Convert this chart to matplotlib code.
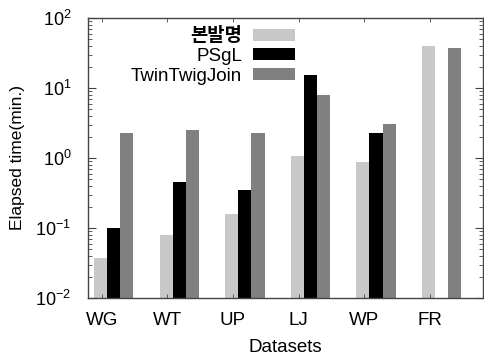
import matplotlib
matplotlib.use("Agg")
import matplotlib.pyplot as plt
import numpy as np
from matplotlib.ticker import LogLocator, NullFormatter

plt.rcParams['font.family'] = ['Liberation Sans', 'Noto Sans CJK KR', 'DejaVu Sans']
plt.rcParams['mathtext.default'] = 'regular'

datasets = ["WG", "WT", "UP", "LJ", "WP", "FR"]
series_names = ["본발명", "PSgL", "TwinTwigJoin"]
ours = [0.037, 0.079, 0.16, 1.07, 0.88, 39.8]
psgl = [0.10, 0.45, 0.35, 15.3, 2.3, np.nan]
twintwig = [2.3, 2.5, 2.3, 7.9, 3.05, 37.3]
colors = ["#c8c8c8", "#000000", "#808080"]

fig = plt.figure(figsize=(4.84, 3.6), dpi=100)
ax = fig.add_axes([88/484, 1-298/360, (483-88)/484, 280/360])

x = np.arange(len(datasets))
w = 0.2
for k, (vals, name, c) in enumerate(zip([ours, psgl, twintwig], series_names, colors)):
    ax.bar(x + (k-1)*w, vals, width=w, color=c, label=name, edgecolor='none')

ax.set_yscale('log')
ax.set_ylim(1e-2, 1e2)
ax.set_xlim(-0.39, 5.63)
ax.yaxis.set_minor_locator(LogLocator(base=10, subs=np.arange(2, 10), numticks=10))
ax.yaxis.set_minor_formatter(NullFormatter())
ax.set_yticks([1e-2, 1e-1, 1e0, 1e1, 1e2])
ax.set_yticklabels(["10$^{-2}$", "10$^{-1}$", "10$^{0}$", "10$^{1}$", "10$^{2}$"], fontsize=13)
ax.set_xticks(x - 0.18)
ax.set_xticklabels(datasets, fontsize=13.5)

ax.tick_params(axis='both', which='both', direction='in', top=True, right=True, color='#444444')
ax.tick_params(axis='y', which='major', length=6, width=0.8, pad=12)
ax.tick_params(axis='y', which='minor', length=3, width=0.6)
ax.tick_params(axis='x', which='major', length=3, width=0.6, pad=10)
for s in ax.spines.values():
    s.set_color('#444444')
    s.set_linewidth(1.0)

ax.set_ylabel("Elapsed time(min.)", fontsize=12.5)
ax.set_xlabel("Datasets", fontsize=13.5)
ax.yaxis.set_label_coords(-0.16, 0.5)
ax.xaxis.set_label_coords(0.5, -0.145)

leg = ax.legend(loc='upper right', bbox_to_anchor=(0.549, 1.0), frameon=False, markerfirst=False,
                handlelength=2.24, handleheight=0.59, handletextpad=0.6, labelspacing=0.14,
                fontsize=13.5, borderaxespad=0.1)
for t in leg.get_texts():
    t.set_ha('right')
leg.get_texts()[0].set_fontweight('bold')

fig.savefig("out.png", dpi=100)
